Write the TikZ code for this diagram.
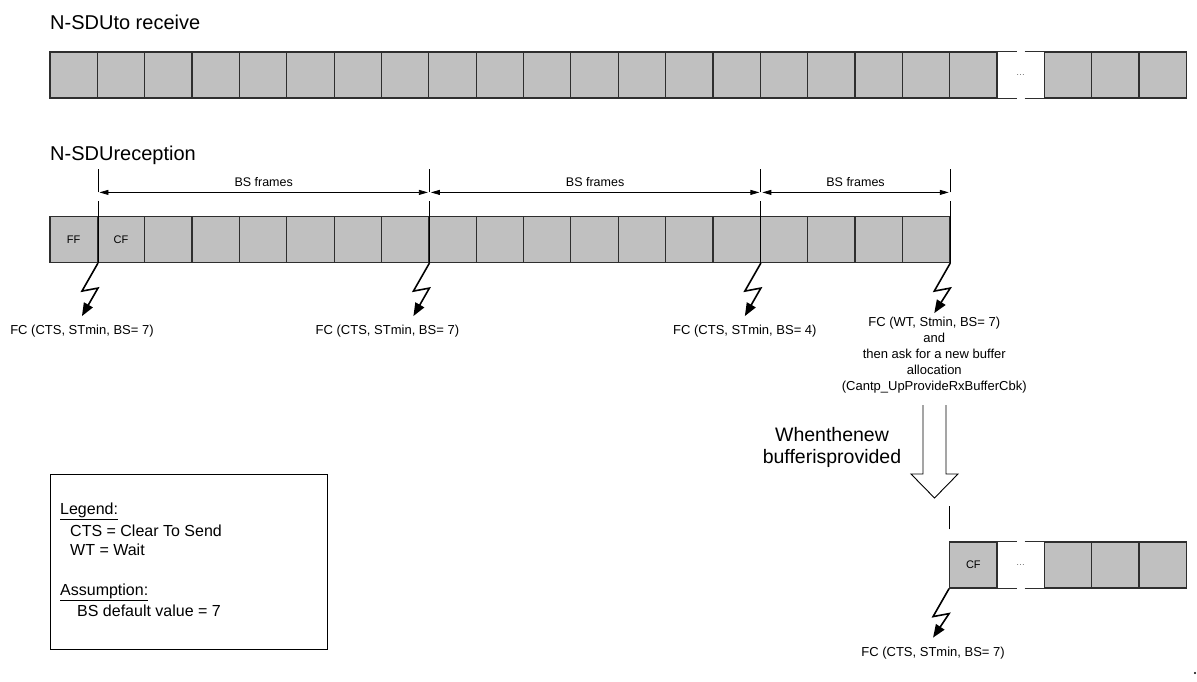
\documentclass[tikz,border=0pt]{standalone}
\usepackage{fontspec}
\setmainfont{Liberation Sans}
\usetikzlibrary{arrows.meta,positioning,calc}
\definecolor{cellfill}{HTML}{C0C0C0}
\definecolor{celledge}{HTML}{2E2E2E}
\newcommand{\txtsize}[2]{\fontsize{#1}{#2}\selectfont}

\begin{document}
\begin{tikzpicture}[x=1pt, y=-1pt,
  cell/.style={draw=celledge, fill=cellfill, line width=1.2pt, minimum width=47.35pt,
    minimum height=46pt, inner sep=0pt, font=\txtsize{11}{13}},
  gapcell/.style={minimum width=47.35pt, minimum height=46pt, inner sep=0pt,
    font=\txtsize{9}{11}, text=black!60},
  frameline/.style={draw=celledge, line width=1.2pt},
  tick/.style={line width=0.8pt},
  dim/.style={{Triangle[length=9pt,width=5pt]}-{Triangle[length=9pt,width=5pt]},
    line width=0.8pt, shorten <=1.5pt, shorten >=1.5pt},
  bolt/.style={line width=1.6pt, -{Triangle[length=13pt,width=10pt]}},
  fclabel/.style={font=\txtsize{13}{16}, inner sep=0pt, align=center},
  title/.style={font=\txtsize{20}{24}, anchor=west, inner sep=0pt},
  legendtext/.style={font=\txtsize{16}{19}, anchor=west, inner sep=0pt}]
\useasboundingbox (0,0) rectangle (1197,682);

% titles
\node[title] (tosdu) at (50,22) {N-SDUto receive};
\node[title] (rxsdu) at (50,155) {N-SDUreception};

% N-SDU to receive
\foreach \i in {0,...,19}
  \node[cell] (t\i) at ({73.675+47.35*\i},75) {};
\foreach \i in {21,22,23}
  \node[cell] (t\i) at ({73.675+47.35*\i},75) {};
\node[gapcell] (t20) at ({73.675+47.35*20},75) {\ldots};
\draw[frameline] (t20.north west) -- ([xshift=-4pt]t20.north);
\draw[frameline] ([xshift=4pt]t20.north) -- (t20.north east);
\draw[frameline] (t20.south west) -- ([xshift=-4pt]t20.south);
\draw[frameline] ([xshift=4pt]t20.south) -- (t20.south east);

% N-SDU reception
\node[cell] (m0) at (73.675,239.5) {FF};
\node[cell] (m1) at ({73.675+47.35},239.5) {CF};
\foreach \i in {2,...,18}
  \node[cell] (m\i) at ({73.675+47.35*\i},239.5) {};

% block limits
\foreach \c/\n in {0/0,7/1,14/2,18/3} {
  \coordinate (d\n) at ($(m\c.north east)+(0,-23.5)$);
  \draw[tick] (m\c.south east) -- ++(0,-62.5);
  \draw[tick] (d\n) -- ++(0,-23);
}
\draw[dim] (d0) -- node[above=2pt, font=\txtsize{12.5}{14}] (bs0) {BS frames} (d1);
\draw[dim] (d1) -- node[above=2pt, font=\txtsize{12.5}{14}] (bs1) {BS frames} (d2);
\draw[dim] (d2) -- node[above=2pt, font=\txtsize{12.5}{14}] (bs2) {BS frames} (d3);

% flow controls
\draw[bolt] (m0.south east) -- ++(-16,28) -- ++(16,-3) -- ++(-16,28) coordinate (z0);
\draw[bolt] (m7.south east) -- ++(-16,28) -- ++(16,-3) -- ++(-16,28) coordinate (z1);
\draw[bolt] (m14.south east) -- ++(-16,28) -- ++(16,-3) -- ++(-16,28) coordinate (z2);
\draw[bolt] (m18.south east) -- ++(-16,28) -- ++(16,-3) -- ++(-16,25) coordinate (z3);
\node[fclabel, below=9pt of z0] (fc0) {FC (CTS, STmin, BS= 7)};
\node[fclabel, below=9pt of z1, xshift=-26pt] (fc1) {FC (CTS, STmin, BS= 7)};
\node[fclabel, below=9pt of z2] (fc2) {FC (CTS, STmin, BS= 4)};
\node[fclabel, below=4pt of z3] (fc3) {FC (WT, Stmin, BS= 7)\\and\\then ask for a new buffer\\allocation\\(Cantp\_UpProvideRxBufferCbk)};

% new buffer
\coordinate (ha) at (934.5,405);
\draw[line width=0.9pt] (ha) ++(-11.5,0) -- ++(0,69) -- ++(-12,0) -- ++(23.5,24)
  -- ++(23.5,-24) -- ++(-12,0) -- ++(0,-69);
\node[font=\txtsize{19.5}{22}, align=center] (when) at (832,447) {Whenthenew\\bufferisprovided};

\node[cell] (b19) at ({73.675+47.35*19},565) {CF};
\node[gapcell] (b20) at ({73.675+47.35*20},565) {\ldots};
\foreach \i in {21,22,23}
  \node[cell] (b\i) at ({73.675+47.35*\i},565) {};
\draw[frameline] (b20.north west) -- ([xshift=-4pt]b20.north);
\draw[frameline] ([xshift=4pt]b20.north) -- (b20.north east);
\draw[frameline] (b20.south west) -- ([xshift=-4pt]b20.south);
\draw[frameline] ([xshift=4pt]b20.south) -- (b20.south east);
\draw[tick] ([yshift=12pt]b19.north west) -- ([yshift=35pt]b19.north west);
\draw[bolt] (b19.south west) -- ++(-16,28) -- ++(16,-3) -- ++(-16,24) coordinate (z4);
\node[fclabel, below=9pt of z4] (fc4) {FC (CTS, STmin, BS= 7)};

% legend
\node[draw, line width=1pt, anchor=north west, minimum width=277pt, minimum height=175pt,
  inner sep=0pt] (legend) at (50,474) {};
\node[legendtext] (lg1) at ($(legend.north west)+(10,37)$) {\underline{Legend:}};
\node[legendtext] (lg2) at ($(legend.north west)+(20,57)$) {CTS = Clear To Send};
\node[legendtext] (lg3) at ($(legend.north west)+(20,76)$) {WT = Wait};
\node[legendtext] (lg4) at ($(legend.north west)+(10,118)$) {\underline{Assumption:}};
\node[legendtext] (lg5) at ($(legend.north west)+(27,137)$) {BS default value = 7};

\fill (1195,673) circle (1.2pt);
\end{tikzpicture}
\end{document}
